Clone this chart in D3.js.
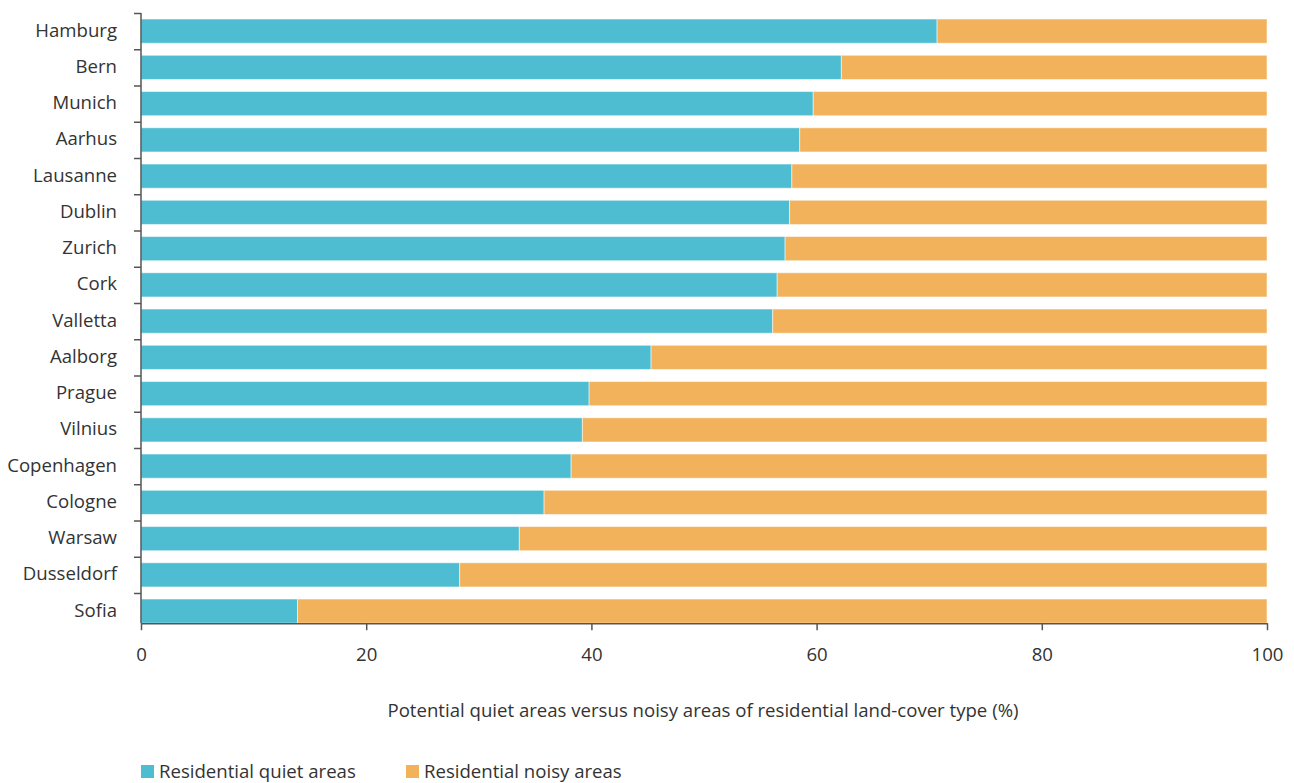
<!DOCTYPE html>
<html>
<head>
<meta charset="utf-8">
<script src="https://cdn.jsdelivr.net/npm/d3@7"></script>
<style>
  html, body { margin: 0; padding: 0; background: #fff; }
  svg { display: block; font-family: "Open Sans", sans-serif; }
</style>
</head>
<body>
<svg id="chart" width="1294" height="783"></svg>
<script>
const cities = ["Hamburg","Bern","Munich","Aarhus","Lausanne","Dublin","Zurich","Cork","Valletta","Aalborg","Prague","Vilnius","Copenhagen","Cologne","Warsaw","Dusseldorf","Sofia"];
const quiet = [70.7, 62.2, 59.7, 58.5, 57.8, 57.6, 57.2, 56.5, 56.1, 45.3, 39.8, 39.2, 38.2, 35.8, 33.6, 28.3, 13.9];
const noisy = quiet.map(q => +(100 - q).toFixed(1));
const seriesNames = ["Residential quiet areas", "Residential noisy areas"];
const colors = ["#4FBDD1", "#F2B25C"];
const xTicks = [0, 20, 40, 60, 80, 100];
const xTitle = "Potential quiet areas versus noisy areas of residential land-cover type (%)";

(function () {
const svg = d3.select("#chart");
const mLeft = 141, mRight = 1267, mTop = 13, step = 36.25;
const mBottomBand = mTop + cities.length * step;
const textColor = "#333";
const axisColor = "#555";
const fs = "18.6px";

const x = d3.scaleLinear().domain([0, 100]).range([mLeft, mRight]);
const y = d3.scaleBand().domain(cities).range([mTop, mBottomBand]).paddingInner(0.333).paddingOuter(0.1665);
const axisY = y(cities[cities.length - 1]) + y.bandwidth();

const rows = cities.map((c, i) => ({city: c, vals: [quiet[i], noisy[i]]}));
const stack = d3.stack().keys([0, 1]).value((d, k) => d.vals[k]);
const stacked = stack(rows);

const g = svg.append("g");
stacked.forEach((layer, li) => {
  g.selectAll(null).data(layer).enter().append("rect")
    .attr("x", d => x(d[0]))
    .attr("width", d => x(d[1]) - x(d[0]))
    .attr("y", d => y(d.data.city))
    .attr("height", y.bandwidth())
    .attr("fill", colors[li])
    .attr("stroke", "#fff")
    .attr("stroke-opacity", 0.5)
    .attr("stroke-width", 1);
});

// y axis: line + ticks at band boundaries
const yb = d3.scaleLinear().domain([0, cities.length]).range([mTop, mBottomBand]);
const yAxis = svg.append("g").attr("transform", `translate(${mLeft},0)`)
  .call(d3.axisLeft(yb).tickValues(d3.range(cities.length)).tickSize(7).tickSizeOuter(0).tickFormat(""));
yAxis.select(".domain").remove();
yAxis.selectAll(".tick line").attr("stroke", axisColor).attr("stroke-width", 1.5);
yAxis.append("line").attr("x1", 0).attr("x2", 0).attr("y1", mTop).attr("y2", axisY)
  .attr("stroke", axisColor).attr("stroke-width", 1.5);

// y labels
svg.append("g").selectAll(null).data(cities).enter().append("text")
  .attr("x", 117)
  .attr("y", d => y(d) + y.bandwidth() / 2)
  .attr("dy", "0.3em")
  .attr("text-anchor", "end")
  .attr("fill", textColor)
  .attr("font-size", fs)
  .text(d => d);

// x axis
const xAxis = svg.append("g").attr("transform", `translate(0,${axisY})`)
  .call(d3.axisBottom(x).tickValues(xTicks).tickSize(7).tickSizeOuter(0).tickPadding(18));
xAxis.select(".domain").attr("stroke", axisColor).attr("stroke-width", 1.5);
xAxis.selectAll(".tick line").attr("stroke", axisColor).attr("stroke-width", 1.5);
xAxis.selectAll(".tick text").attr("fill", textColor).attr("font-size", fs).attr("font-family", "Open Sans, sans-serif");

// x title
svg.append("text")
  .attr("x", (mLeft + mRight) / 2 - 1)
  .attr("y", 717)
  .attr("text-anchor", "middle")
  .attr("fill", textColor)
  .attr("font-size", fs)
  .text(xTitle);

// legend
const legendX = [141, 406];
const lg = svg.append("g");
seriesNames.forEach((n, i) => {
  lg.append("rect").attr("x", legendX[i]).attr("y", 765).attr("width", 13).attr("height", 13).attr("fill", colors[i]);
  lg.append("text").attr("x", legendX[i] + 18).attr("y", 778)
    .attr("fill", textColor).attr("font-size", fs).text(n);
});
})();
</script>
</body>
</html>
